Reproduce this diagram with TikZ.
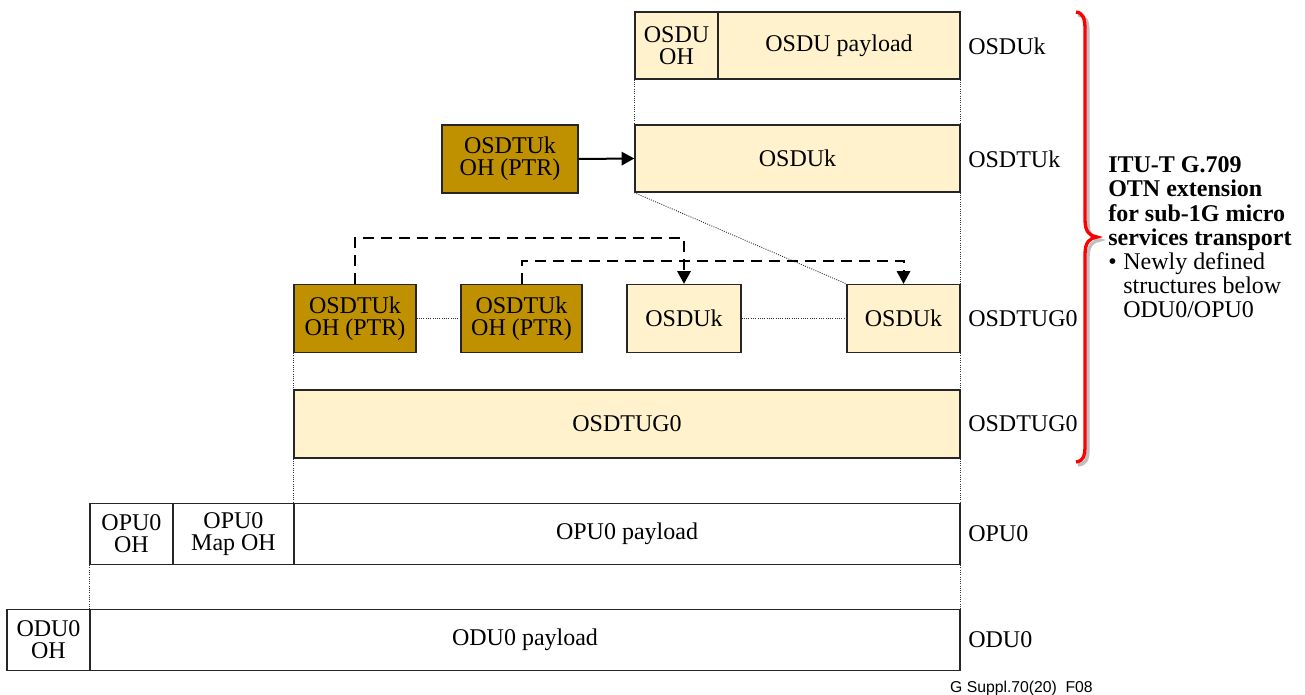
\documentclass[tikz,border=0pt]{standalone}
\usepackage{fontspec}
\setmainfont{Liberation Serif}
\newfontfamily\footfont{Liberation Sans}
\usetikzlibrary{arrows.meta}
\definecolor{lightfill}{HTML}{FFF2CC}
\definecolor{darkgold}{HTML}{BF9000}
\definecolor{bracered}{HTML}{FF0000}
\newdimen\pxu \pxu=0.75pt
\begin{document}
\begin{tikzpicture}[x=0.75pt,y=-0.75pt,
  every node/.style={font=\fontsize{18}{16.5}\selectfont},
  box/.style={draw=black!85, line width=1pt, inner sep=0pt, align=center},
  lbox/.style={box, fill=lightfill},
  dbox/.style={box, fill=darkgold},
  wbox/.style={box, fill=white},
  lab/.style={anchor=west, inner sep=0pt},
  txt/.style={anchor=base west, inner sep=0pt},
  dotl/.style={densely dotted, line width=0.7pt, draw=black!80},
  dashl/.style={line width=1.5pt, dash pattern=on 8.5pt off 5pt},
  arr/.style={-{Triangle[length=9.5pt,width=10pt]}},
]
\useasboundingbox (0,0) rectangle (1305,695);

% OSDUk row
\node[lbox, minimum width=83\pxu, minimum height=67\pxu] (osduoh) at (676.5,45.5) {OSDU\\OH};
\node[lbox, minimum width=242\pxu, minimum height=67\pxu] (osdupl) at (839,45.5) {OSDU payload};
\node[lab] (l1) at (968,46) {OSDUk};

% OSDTUk row
\node[lbox, minimum width=325\pxu, minimum height=67\pxu] (osduk1) at (797.5,158.5) {OSDUk};
\node[dbox, minimum width=136\pxu, minimum height=68\pxu] (ptr0) at (510,159) {OSDTUk\\OH (PTR)};
\node[lab] (l2) at (968,159) {OSDTUk};

% OSDTUG0 row (expanded)
\node[dbox, minimum width=122\pxu, minimum height=68\pxu] (ptr1) at (355,318.5) {OSDTUk\\OH (PTR)};
\node[dbox, minimum width=121\pxu, minimum height=68\pxu] (ptr2) at (521.5,318.5) {OSDTUk\\OH (PTR)};
\node[lbox, minimum width=114\pxu, minimum height=68\pxu] (k3) at (684,318.5) {OSDUk};
\node[lbox, minimum width=113\pxu, minimum height=68\pxu] (k4) at (903.5,318.5) {OSDUk};
\node[lab] (l3) at (968,319) {OSDTUG0};

% OSDTUG0 row
\node[lbox, minimum width=666\pxu, minimum height=68\pxu] (tug) at (627,424) {OSDTUG0};
\node[lab] (l4) at (968,424) {OSDTUG0};

% OPU0 row
\node[wbox, minimum width=83\pxu, minimum height=61\pxu] (opuoh) at (131.5,534) {OPU0\\OH};
\node[wbox, minimum width=121\pxu, minimum height=61\pxu] (opumap) at (233.5,534) {OPU0\\Map OH};
\node[wbox, minimum width=666\pxu, minimum height=61\pxu] (opupl) at (627,534) {OPU0 payload};
\node[lab] (l5) at (968,534) {OPU0};

% ODU0 row
\node[wbox, minimum width=83\pxu, minimum height=61\pxu] (oduoh) at (48.5,640) {ODU0\\OH};
\node[wbox, minimum width=870\pxu, minimum height=61\pxu] (odupl) at (525,640) {ODU0 payload};
\node[lab] (l6) at (968,640) {ODU0};

% dotted guides
\draw[dotl] (osduoh.south west) -- (osduk1.north west);
\draw[dotl] (osdupl.south east) -- (osduk1.north east);
\draw[dotl] (osduk1.south west) -- (k4.north west);
\draw[dotl] (osduk1.south east) -- (k4.north east);
\draw[dotl] (ptr1.east) -- (ptr2.west);
\draw[dotl] (k3.east) -- (k4.west);
\draw[dotl] (ptr1.south west) -- (tug.north west);
\draw[dotl] (k4.south east) -- (tug.north east);
\draw[dotl] (tug.south west) -- (opupl.north west);
\draw[dotl] (tug.south east) -- (opupl.north east);
\draw[dotl] (opuoh.south west) -- (odupl.north west);
\draw[dotl] (opupl.south east) -- (odupl.north east);

% pointers
\draw[line width=1.5pt, arr] (ptr0.east) -- (osduk1.west);
\draw[dashl, arr] (ptr1.north) -- ++(0,-46) -| (k3.north);
\draw[dashl, arr] (ptr2.north) -- ++(0,-23) -| (k4.north);

% brace
\draw[black!25, line width=2.5pt] (1078,15) .. controls (1086,16) and (1088,21) .. (1088,33) -- (1088,223) .. controls (1088,235) and (1093,239) .. (1100,240) .. controls (1093,241) and (1088,245) .. (1088,257) -- (1088,448) .. controls (1088,460) and (1086,464) .. (1078,465);
\draw[bracered, line width=2.5pt] (1076,12) .. controls (1083,13) and (1085,18) .. (1085,30) -- (1085,220) .. controls (1085,232) and (1090,236) .. (1097,237) .. controls (1090,238) and (1085,242) .. (1085,254) -- (1085,445) .. controls (1085,457) and (1083,461) .. (1076,462);

% right text
\node[txt, font=\fontsize{18}{18}\selectfont\bfseries] (t1) at (1108,173) {ITU-T G.709};
\node[txt, font=\fontsize{18}{18}\selectfont\bfseries] (t2) at (1108,197) {OTN extension};
\node[txt, font=\fontsize{18}{18}\selectfont\bfseries] (t3) at (1108,222) {for sub-1G micro};
\node[txt, font=\fontsize{18}{18}\selectfont\bfseries] (t4) at (1108,246) {services transport};
\node[txt] (b0) at (1108,269) {\textbullet};
\node[txt] (b1) at (1123,269) {Newly defined};
\node[txt] (b2) at (1123,293) {structures below};
\node[txt] (b3) at (1123,317) {ODU0/OPU0};

% footer
\node[anchor=base east, inner sep=0pt, font=\footfont\fontsize{11.8}{13}\selectfont] (foot) at (1093,692) {G Suppl.70(20)\ \ F08};
\end{tikzpicture}
\end{document}
